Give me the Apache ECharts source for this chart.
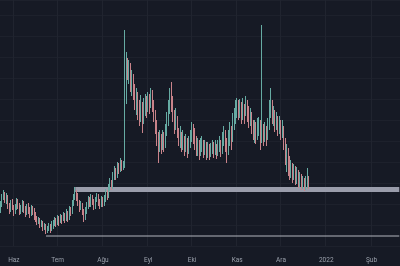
<!DOCTYPE html>
<html><head><meta charset="utf-8">
<script src="https://cdn.jsdelivr.net/npm/echarts@6/dist/echarts.min.js"></script>
<style>html,body{margin:0;padding:0;background:#161a25}#c{width:400px;height:266px}</style>
</head><body><div id="c"></div>
<script>
// time axis
const startDate = '2021-05-23';
const dayCount = 274;
const monthNames = ['Oca','Şub','Mar','Nis','May','Haz','Tem','Ağu','Eyl','Eki','Kas','Ara'];

// daily candles (arbitrary price units)
const firstOpen = 36;
const closes = [41,48,52,46,50,40,36,43,39,34,38,44,40,35,37,42,36,33,39,35,32,37,34,30,
27,24,26,21,23,18,20,15,17,19,16,20,
22,25,23,27,24,28,26,30,27,32,29,
36,34,42,48,53,50,
43,38,41,34,29,35,
40,46,42,48,44,39,45,49,43,41,46,42,47,
53,50,58,63,60,69,74,71,
79,76,83,78,80,
146,184,171,178,161,168,154,144,150,136,128,138,126,134,142,136,145,140,150,142,130,118,108,98,106,100,108,103,114,124,136,148,142,130,120,126,114,106,110,101,106,98,103,96,102,108,116,110,104,96,100,93,98,102,95,99,92,97,91,96,100,94,98,93,99,103,96,106,112,101,94,106,116,108,122,128,136,142,134,140,130,138,132,142,134,126,130,120,114,118,110,116,122,112,118,110,116,108,120,134,140,128,132,122,126,118,122,113,118,106,90,96,82,74,80,71,76,68,72,64,68,62,66,60,65,68,62];
const highs = [45,52,56,54,53,51,43,46,47,41,42,48,47,43,41,46,45,40,42,43,39,41,40,38,
34,30,29,28,26,25,23,22,20,23,22,25,
26,29,28,31,30,32,31,34,33,37,35,
40,39,46,52,59,56,
53,46,45,43,37,39,
44,50,49,52,51,47,49,53,52,47,50,49,51,
57,56,62,68,66,74,80,78,
84,83,88,86,85,
216,194,188,186,183,176,172,162,158,154,146,151,144,148,152,150,154,152,158,156,146,136,126,114,116,112,116,114,122,134,146,158,164,150,136,138,130,118,120,114,116,110,112,108,110,116,124,122,118,110,108,106,108,110,106,106,104,104,102,103,106,104,106,102,106,110,106,114,120,116,108,116,124,120,133,138,146,148,146,147,144,148,142,150,146,140,138,134,126,126,124,128,129,126,221,122,124,120,128,146,158,146,140,136,134,130,130,126,126,120,108,102,98,90,86,83,82,80,79,76,74,72,70,68,70,78,70];
const lows = [33,39,46,43,42,37,32,34,36,30,32,36,37,31,32,34,33,29,31,32,28,30,31,26,
24,21,22,18,19,15,16,12,13,15,13,15,
17,20,19,21,20,23,22,25,23,25,24,
26,30,32,40,46,45,
40,34,36,31,24,26,
32,37,39,39,41,36,37,44,40,37,39,39,40,
44,46,48,55,56,57,66,66,
68,72,74,75,76,
78,142,166,162,154,150,146,136,131,126,120,124,113,122,130,128,134,132,138,134,124,112,100,83,94,92,96,94,98,110,120,132,134,124,112,116,108,100,98,94,96,90,94,88,92,98,104,102,96,90,90,86,90,94,88,91,86,88,86,89,92,88,91,87,90,94,89,92,100,94,83,91,100,96,104,116,122,128,126,128,122,126,122,130,124,118,120,112,106,103,102,106,110,96,103,100,104,100,106,116,128,122,120,114,116,110,112,106,108,96,81,74,70,66,68,63,66,61,62,58,59,56,57,55,56,58,57];

// horizontal levels: [start day index, price]
const bandLevel = [51, 56.5];
const lowLevel = [31, 10];

const dates = [];
{
  const t0 = Date.parse(startDate + 'T00:00:00Z');
  for (let i = 0; i < dayCount; i++) {
    dates.push(new Date(t0 + i * 86400000).toISOString().slice(0, 10));
  }
}
const isMonthStart = (i) => dates[i].slice(8) === '01';
const candleData = closes.map((c, i) => [i === 0 ? firstOpen : closes[i - 1], c, lows[i], highs[i]]);
const last = dates[dates.length - 1];

const chart = echarts.init(document.getElementById('c'), null, {renderer: 'canvas'});
chart.setOption({
  animation: false,
  backgroundColor: '#161a25',
  grid: {left: 0, right: 0, top: 0, bottom: 20},
  xAxis: {
    type: 'category',
    data: dates,
    boundaryGap: true,
    axisLine: {show: false},
    axisTick: {show: false},
    axisLabel: {
      interval: (i) => isMonthStart(i),
      formatter: (v) => {
        const m = +v.slice(5, 7);
        return m === 1 ? v.slice(0, 4) : monthNames[m - 1];
      },
      color: '#9aa0ab', fontSize: 6.5, margin: 11, fontFamily: 'Roboto'
    },
    splitLine: {show: true, interval: (i) => isMonthStart(i), lineStyle: {color: '#20242f', width: 1}}
  },
  yAxis: {
    type: 'value', min: 0, max: 246, interval: 21,
    axisLine: {show: false}, axisTick: {show: false}, axisLabel: {show: false},
    splitLine: {show: true, lineStyle: {color: '#1d212c', width: 1}}
  },
  series: [
    {
      type: 'line', data: [[dates[bandLevel[0]], bandLevel[1]], [last, bandLevel[1]]],
      showSymbol: false, symbol: 'none', lineStyle: {color: '#9a9dab', width: 5}, z: 1, silent: true
    },
    {
      type: 'line', data: [[dates[lowLevel[0]], lowLevel[1]], [last, lowLevel[1]]],
      showSymbol: false, symbol: 'none', lineStyle: {color: '#b2b5be', width: 1}, z: 1, silent: true
    },
    {
      type: 'candlestick', data: candleData, barWidth: '70%', z: 3,
      itemStyle: {color: '#66aba3', color0: '#c9838a', borderColor: '#66aba3', borderColor0: '#c9838a', borderWidth: 1}
    }
  ]
});
</script></body></html>
